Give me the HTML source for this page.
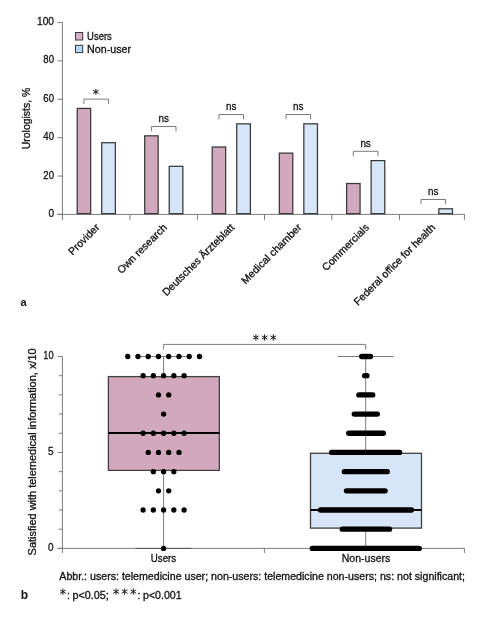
<!DOCTYPE html>
<html><head><meta charset="utf-8"><style>
html,body{margin:0;padding:0;background:#fff;}
svg{display:block;will-change:transform;}
text{font-family:"Liberation Sans", sans-serif;fill:#111;stroke:#111;stroke-width:0.3px;}
</style></head><body>
<svg width="499" height="619" viewBox="0 0 499 619">
<line x1="62.4" y1="22.5" x2="62.4" y2="219.9" stroke="#7a7a7a" stroke-width="1"/>
<line x1="57.4" y1="214.4" x2="464.9" y2="214.4" stroke="#7a7a7a" stroke-width="1"/>
<line x1="57.4" y1="214.40" x2="62.4" y2="214.40" stroke="#7a7a7a" stroke-width="1"/>
<text x="54" y="216.90" text-anchor="end" font-size="11" textLength="5.6" lengthAdjust="spacingAndGlyphs">0</text>
<line x1="57.4" y1="176.02" x2="62.4" y2="176.02" stroke="#7a7a7a" stroke-width="1"/>
<text x="54" y="178.52" text-anchor="end" font-size="11" textLength="10.7" lengthAdjust="spacingAndGlyphs">20</text>
<line x1="57.4" y1="137.64" x2="62.4" y2="137.64" stroke="#7a7a7a" stroke-width="1"/>
<text x="54" y="140.14" text-anchor="end" font-size="11" textLength="10.7" lengthAdjust="spacingAndGlyphs">40</text>
<line x1="57.4" y1="99.26" x2="62.4" y2="99.26" stroke="#7a7a7a" stroke-width="1"/>
<text x="54" y="101.76" text-anchor="end" font-size="11" textLength="10.7" lengthAdjust="spacingAndGlyphs">60</text>
<line x1="57.4" y1="60.88" x2="62.4" y2="60.88" stroke="#7a7a7a" stroke-width="1"/>
<text x="54" y="63.38" text-anchor="end" font-size="11" textLength="10.7" lengthAdjust="spacingAndGlyphs">80</text>
<line x1="57.4" y1="22.50" x2="62.4" y2="22.50" stroke="#7a7a7a" stroke-width="1"/>
<text x="54" y="25.00" text-anchor="end" font-size="11" textLength="17.0" lengthAdjust="spacingAndGlyphs">100</text>
<line x1="129.9" y1="214.4" x2="129.9" y2="219.9" stroke="#7a7a7a" stroke-width="1"/>
<line x1="197.4" y1="214.4" x2="197.4" y2="219.9" stroke="#7a7a7a" stroke-width="1"/>
<line x1="264.5" y1="214.4" x2="264.5" y2="219.9" stroke="#7a7a7a" stroke-width="1"/>
<line x1="331.8" y1="214.4" x2="331.8" y2="219.9" stroke="#7a7a7a" stroke-width="1"/>
<line x1="399.5" y1="214.4" x2="399.5" y2="219.9" stroke="#7a7a7a" stroke-width="1"/>
<line x1="464.4" y1="214.4" x2="464.4" y2="219.9" stroke="#7a7a7a" stroke-width="1"/>
<rect x="77.22" y="108.42" width="13.45" height="105.25" fill="#d2a8bf" stroke="#383838" stroke-width="1.25"/>
<rect x="101.72" y="142.72" width="13.65" height="70.95" fill="#d6e6f8" stroke="#383838" stroke-width="1.25"/>
<path d="M83.90 103.90V99.10H108.50V103.90" fill="none" stroke="#7a7a7a" stroke-width="1"/>
<g transform="translate(95.9,91.8)" stroke="#111" stroke-width="0.95"><line x1="0" y1="-3.0" x2="0" y2="3.0"/><line x1="-2.7" y1="-1.6" x2="2.7" y2="1.6"/><line x1="-2.7" y1="1.6" x2="2.7" y2="-1.6"/></g>
<rect x="144.72" y="135.82" width="13.45" height="77.85" fill="#d2a8bf" stroke="#383838" stroke-width="1.25"/>
<rect x="169.23" y="166.32" width="13.65" height="47.35" fill="#d6e6f8" stroke="#383838" stroke-width="1.25"/>
<path d="M151.40 131.30V126.50H176.00V131.30" fill="none" stroke="#7a7a7a" stroke-width="1"/>
<text x="163.70" y="122.00" text-anchor="middle" font-size="11" textLength="10.4" lengthAdjust="spacingAndGlyphs">ns</text>
<rect x="212.22" y="147.03" width="13.45" height="66.65" fill="#d2a8bf" stroke="#383838" stroke-width="1.25"/>
<rect x="236.73" y="123.83" width="13.65" height="89.85" fill="#d6e6f8" stroke="#383838" stroke-width="1.25"/>
<path d="M218.90 119.30V114.50H243.50V119.30" fill="none" stroke="#7a7a7a" stroke-width="1"/>
<text x="231.20" y="110.00" text-anchor="middle" font-size="11" textLength="10.4" lengthAdjust="spacingAndGlyphs">ns</text>
<rect x="279.32" y="153.12" width="13.45" height="60.55" fill="#d2a8bf" stroke="#383838" stroke-width="1.25"/>
<rect x="303.82" y="123.83" width="13.65" height="89.85" fill="#d6e6f8" stroke="#383838" stroke-width="1.25"/>
<path d="M286.00 119.30V114.50H310.60V119.30" fill="none" stroke="#7a7a7a" stroke-width="1"/>
<text x="298.30" y="110.00" text-anchor="middle" font-size="11" textLength="10.4" lengthAdjust="spacingAndGlyphs">ns</text>
<rect x="346.62" y="183.53" width="13.45" height="30.15" fill="#d2a8bf" stroke="#383838" stroke-width="1.25"/>
<rect x="371.12" y="160.62" width="13.65" height="53.05" fill="#d6e6f8" stroke="#383838" stroke-width="1.25"/>
<path d="M353.30 156.10V151.30H377.90V156.10" fill="none" stroke="#7a7a7a" stroke-width="1"/>
<text x="365.60" y="146.80" text-anchor="middle" font-size="11" textLength="10.4" lengthAdjust="spacingAndGlyphs">ns</text>
<rect x="438.82" y="208.82" width="13.65" height="4.85" fill="#d6e6f8" stroke="#383838" stroke-width="1.25"/>
<path d="M421.00 204.30V199.50H445.60V204.30" fill="none" stroke="#7a7a7a" stroke-width="1"/>
<text x="433.30" y="195.00" text-anchor="middle" font-size="11" textLength="10.4" lengthAdjust="spacingAndGlyphs">ns</text>
<rect x="75.5" y="32.5" width="7.2" height="7.5" fill="#d6aec6" stroke="#383838" stroke-width="1"/>
<rect x="75.5" y="45.3" width="7.2" height="7.3" fill="#afd7fa" stroke="#383838" stroke-width="1"/>
<text x="87.1" y="39.9" font-size="10.5" textLength="24.7" lengthAdjust="spacingAndGlyphs">Users</text>
<text x="87.1" y="52.5" font-size="10.5" textLength="43.9" lengthAdjust="spacingAndGlyphs">Non-user</text>
<text transform="translate(29.5,118.5) rotate(-90)" text-anchor="middle" font-size="10.5" textLength="61.5" lengthAdjust="spacingAndGlyphs">Urologists, %</text>
<text transform="translate(100.15,228.1) rotate(-45)" text-anchor="end" font-size="10.5">Provider</text>
<text transform="translate(167.65,228.1) rotate(-45)" text-anchor="end" font-size="10.5">Own research</text>
<text transform="translate(234.95,228.1) rotate(-45)" text-anchor="end" font-size="10.5">Deutsches Ärzteblatt</text>
<text transform="translate(302.15,228.1) rotate(-45)" text-anchor="end" font-size="10.5">Medical chamber</text>
<text transform="translate(369.65,228.1) rotate(-45)" text-anchor="end" font-size="10.5">Commercials</text>
<text transform="translate(435.95,228.1) rotate(-45)" text-anchor="end" font-size="10.5">Federal office for health</text>
<text x="20.5" y="305.8" font-size="11" font-weight="bold" style="stroke:none">a</text>
<line x1="62.4" y1="356.5" x2="62.4" y2="552.9" stroke="#7a7a7a" stroke-width="1"/>
<line x1="57.6" y1="548.4" x2="464.9" y2="548.4" stroke="#7a7a7a" stroke-width="1"/>
<line x1="57.6" y1="548.40" x2="62.4" y2="548.40" stroke="#7a7a7a" stroke-width="1"/>
<line x1="59.0" y1="529.21" x2="62.4" y2="529.21" stroke="#7a7a7a" stroke-width="1"/>
<line x1="59.0" y1="510.02" x2="62.4" y2="510.02" stroke="#7a7a7a" stroke-width="1"/>
<line x1="59.0" y1="490.83" x2="62.4" y2="490.83" stroke="#7a7a7a" stroke-width="1"/>
<line x1="59.0" y1="471.64" x2="62.4" y2="471.64" stroke="#7a7a7a" stroke-width="1"/>
<line x1="57.6" y1="452.45" x2="62.4" y2="452.45" stroke="#7a7a7a" stroke-width="1"/>
<line x1="59.0" y1="433.26" x2="62.4" y2="433.26" stroke="#7a7a7a" stroke-width="1"/>
<line x1="59.0" y1="414.07" x2="62.4" y2="414.07" stroke="#7a7a7a" stroke-width="1"/>
<line x1="59.0" y1="394.88" x2="62.4" y2="394.88" stroke="#7a7a7a" stroke-width="1"/>
<line x1="59.0" y1="375.69" x2="62.4" y2="375.69" stroke="#7a7a7a" stroke-width="1"/>
<line x1="57.6" y1="356.50" x2="62.4" y2="356.50" stroke="#7a7a7a" stroke-width="1"/>
<text x="53.6" y="550.90" text-anchor="end" font-size="11" textLength="5.6" lengthAdjust="spacingAndGlyphs">0</text>
<text x="53.6" y="454.95" text-anchor="end" font-size="11" textLength="5.6" lengthAdjust="spacingAndGlyphs">5</text>
<text x="53.6" y="359.00" text-anchor="end" font-size="11" textLength="10.4" lengthAdjust="spacingAndGlyphs">10</text>
<line x1="264.4" y1="548.4" x2="264.4" y2="552.9" stroke="#7a7a7a" stroke-width="1"/>
<line x1="464.4" y1="548.4" x2="464.4" y2="552.9" stroke="#7a7a7a" stroke-width="1"/>
<line x1="163.6" y1="356.50" x2="163.6" y2="376.60" stroke="#7a7a7a" stroke-width="1"/>
<line x1="163.6" y1="470.40" x2="163.6" y2="548.40" stroke="#7a7a7a" stroke-width="1"/>
<line x1="135.6" y1="356.50" x2="191.6" y2="356.50" stroke="#7a7a7a" stroke-width="1"/>
<line x1="135.6" y1="548.40" x2="191.6" y2="548.40" stroke="#555" stroke-width="1"/>
<rect x="108.4" y="376.60" width="110.90" height="93.80" fill="#d2a8bf" stroke="#404040" stroke-width="1.3"/>
<line x1="108.4" y1="433.10" x2="219.3" y2="433.10" stroke="#000" stroke-width="2"/>
<line x1="365.7" y1="356.50" x2="365.7" y2="453.30" stroke="#7a7a7a" stroke-width="1"/>
<line x1="365.7" y1="528.10" x2="365.7" y2="548.40" stroke="#7a7a7a" stroke-width="1"/>
<line x1="337.7" y1="356.50" x2="393.7" y2="356.50" stroke="#7a7a7a" stroke-width="1"/>
<line x1="337.7" y1="548.40" x2="393.7" y2="548.40" stroke="#555" stroke-width="1"/>
<rect x="310.5" y="453.30" width="111.00" height="74.80" fill="#d6e6f8" stroke="#404040" stroke-width="1.3"/>
<line x1="310.5" y1="509.90" x2="421.5" y2="509.90" stroke="#000" stroke-width="2"/>
<circle cx="127.72" cy="356.50" r="2.65" fill="#000"/>
<circle cx="137.97" cy="356.50" r="2.65" fill="#000"/>
<circle cx="148.22" cy="356.50" r="2.65" fill="#000"/>
<circle cx="158.47" cy="356.50" r="2.65" fill="#000"/>
<circle cx="168.72" cy="356.50" r="2.65" fill="#000"/>
<circle cx="178.97" cy="356.50" r="2.65" fill="#000"/>
<circle cx="189.22" cy="356.50" r="2.65" fill="#000"/>
<circle cx="199.47" cy="356.50" r="2.65" fill="#000"/>
<circle cx="143.10" cy="375.69" r="2.65" fill="#000"/>
<circle cx="153.35" cy="375.69" r="2.65" fill="#000"/>
<circle cx="163.60" cy="375.69" r="2.65" fill="#000"/>
<circle cx="173.85" cy="375.69" r="2.65" fill="#000"/>
<circle cx="184.10" cy="375.69" r="2.65" fill="#000"/>
<circle cx="158.47" cy="394.88" r="2.65" fill="#000"/>
<circle cx="168.72" cy="394.88" r="2.65" fill="#000"/>
<circle cx="163.60" cy="414.07" r="2.65" fill="#000"/>
<circle cx="143.10" cy="433.26" r="2.65" fill="#000"/>
<circle cx="153.35" cy="433.26" r="2.65" fill="#000"/>
<circle cx="163.60" cy="433.26" r="2.65" fill="#000"/>
<circle cx="173.85" cy="433.26" r="2.65" fill="#000"/>
<circle cx="184.10" cy="433.26" r="2.65" fill="#000"/>
<circle cx="148.22" cy="452.45" r="2.65" fill="#000"/>
<circle cx="158.47" cy="452.45" r="2.65" fill="#000"/>
<circle cx="168.72" cy="452.45" r="2.65" fill="#000"/>
<circle cx="178.97" cy="452.45" r="2.65" fill="#000"/>
<circle cx="153.35" cy="471.64" r="2.65" fill="#000"/>
<circle cx="163.60" cy="471.64" r="2.65" fill="#000"/>
<circle cx="173.85" cy="471.64" r="2.65" fill="#000"/>
<circle cx="158.47" cy="490.83" r="2.65" fill="#000"/>
<circle cx="168.72" cy="490.83" r="2.65" fill="#000"/>
<circle cx="143.10" cy="510.02" r="2.65" fill="#000"/>
<circle cx="153.35" cy="510.02" r="2.65" fill="#000"/>
<circle cx="163.60" cy="510.02" r="2.65" fill="#000"/>
<circle cx="173.85" cy="510.02" r="2.65" fill="#000"/>
<circle cx="184.10" cy="510.02" r="2.65" fill="#000"/>
<circle cx="163.60" cy="548.40" r="2.65" fill="#000"/>
<rect x="359.00" y="353.85" width="14.10" height="5.30" rx="2.65" fill="#000"/>
<rect x="362.00" y="373.04" width="7.60" height="5.30" rx="2.65" fill="#000"/>
<rect x="356.20" y="392.23" width="19.20" height="5.30" rx="2.65" fill="#000"/>
<rect x="351.60" y="411.42" width="28.40" height="5.30" rx="2.65" fill="#000"/>
<rect x="346.10" y="430.61" width="39.90" height="5.30" rx="2.65" fill="#000"/>
<rect x="329.00" y="449.80" width="73.30" height="5.30" rx="2.65" fill="#000"/>
<rect x="341.70" y="468.99" width="48.20" height="5.30" rx="2.65" fill="#000"/>
<rect x="343.80" y="488.18" width="44.00" height="5.30" rx="2.65" fill="#000"/>
<rect x="317.70" y="507.37" width="96.40" height="5.30" rx="2.65" fill="#000"/>
<rect x="339.60" y="526.56" width="52.60" height="5.30" rx="2.65" fill="#000"/>
<rect x="309.60" y="545.75" width="112.30" height="5.30" rx="2.65" fill="#000"/>
<path d="M163.6 349.4V344.4H365.7V349.4" fill="none" stroke="#7a7a7a" stroke-width="1"/>
<g transform="translate(255.9,337.5)" stroke="#111" stroke-width="1.0"><line x1="0" y1="-3.1" x2="0" y2="3.1"/><line x1="-2.8" y1="-1.65" x2="2.8" y2="1.65"/><line x1="-2.8" y1="1.65" x2="2.8" y2="-1.65"/></g>
<g transform="translate(264.6,337.5)" stroke="#111" stroke-width="1.0"><line x1="0" y1="-3.1" x2="0" y2="3.1"/><line x1="-2.8" y1="-1.65" x2="2.8" y2="1.65"/><line x1="-2.8" y1="1.65" x2="2.8" y2="-1.65"/></g>
<g transform="translate(273.3,337.5)" stroke="#111" stroke-width="1.0"><line x1="0" y1="-3.1" x2="0" y2="3.1"/><line x1="-2.8" y1="-1.65" x2="2.8" y2="1.65"/><line x1="-2.8" y1="1.65" x2="2.8" y2="-1.65"/></g>
<text x="163.5" y="561.5" text-anchor="middle" font-size="10.5" textLength="25.3" lengthAdjust="spacingAndGlyphs">Users</text>
<text x="366" y="561.7" text-anchor="middle" font-size="10.5" textLength="48.5" lengthAdjust="spacingAndGlyphs">Non-users</text>
<text transform="translate(36.2,451.9) rotate(-90)" text-anchor="middle" font-size="10.5" textLength="207" lengthAdjust="spacingAndGlyphs">Satisfied with telemedical information, x/10</text>
<text x="59.3" y="579.9" font-size="10.3" textLength="405.7" lengthAdjust="spacingAndGlyphs">Abbr.: users: telemedicine user; non-users: telemedicine non-users; ns: not significant;</text>
<text x="20.8" y="598.7" font-size="12" font-weight="bold" style="stroke:none">b</text>
<g transform="translate(62.90,591.70)" stroke="#111" stroke-width="0.95" stroke-linecap="butt"><line x1="0" y1="-3.20" x2="0" y2="3.20"/><line x1="-2.90" y1="-1.75" x2="2.90" y2="1.75"/><line x1="-2.90" y1="1.75" x2="2.90" y2="-1.75"/></g>
<text x="67.0" y="599.4" font-size="10.3">:</text>
<text x="72.6" y="599.4" font-size="10.3" textLength="36.2" lengthAdjust="spacingAndGlyphs">p&lt;0.05;</text>
<g transform="translate(116.10,591.60)" stroke="#111" stroke-width="0.95" stroke-linecap="butt"><line x1="0" y1="-3.20" x2="0" y2="3.20"/><line x1="-2.90" y1="-1.75" x2="2.90" y2="1.75"/><line x1="-2.90" y1="1.75" x2="2.90" y2="-1.75"/></g>
<g transform="translate(124.60,591.60)" stroke="#111" stroke-width="0.95" stroke-linecap="butt"><line x1="0" y1="-3.20" x2="0" y2="3.20"/><line x1="-2.90" y1="-1.75" x2="2.90" y2="1.75"/><line x1="-2.90" y1="1.75" x2="2.90" y2="-1.75"/></g>
<g transform="translate(133.30,591.60)" stroke="#111" stroke-width="0.95" stroke-linecap="butt"><line x1="0" y1="-3.20" x2="0" y2="3.20"/><line x1="-2.90" y1="-1.75" x2="2.90" y2="1.75"/><line x1="-2.90" y1="1.75" x2="2.90" y2="-1.75"/></g>
<text x="137.4" y="599.4" font-size="10.3">:</text>
<text x="143.0" y="599.4" font-size="10.3" textLength="38.6" lengthAdjust="spacingAndGlyphs">p&lt;0.001</text>
</svg>
</body></html>
